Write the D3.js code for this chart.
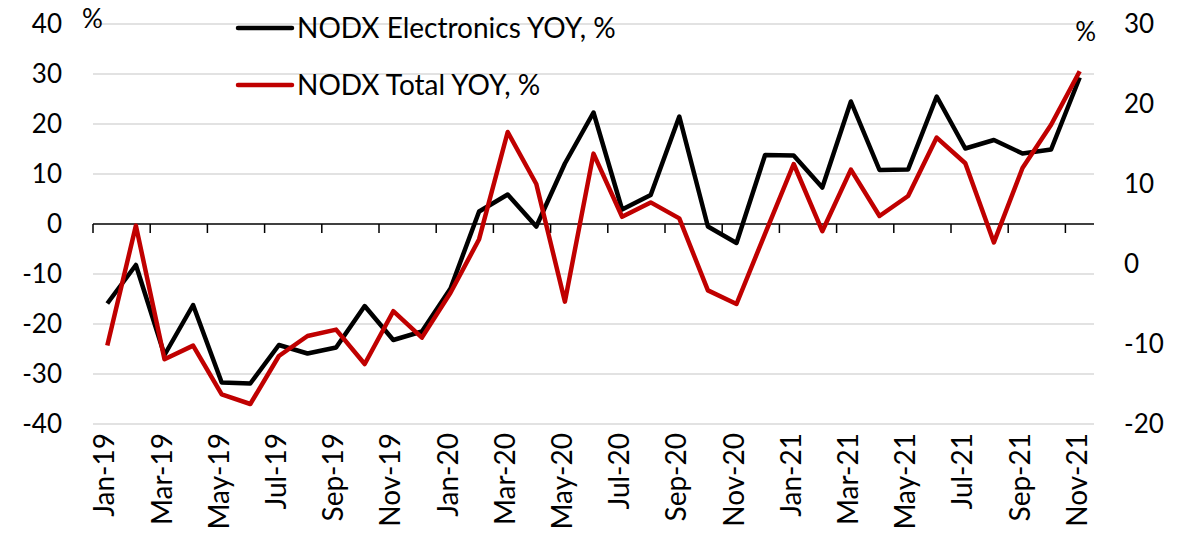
<!DOCTYPE html>
<html>
<head>
<meta charset="utf-8">
<script src="https://cdn.jsdelivr.net/npm/d3@7"></script>
<style>
    body { margin: 0; background: #fff; }
    text { font-family: Lato, 'Open Sans', sans-serif; fill: #000; }
</style>
</head>
<body>
<div id="chart"></div>
<script>
// months on the category axis
let months = ['Jan-19', 'Feb-19', 'Mar-19', 'Apr-19', 'May-19', 'Jun-19', 'Jul-19', 'Aug-19', 'Sep-19', 'Oct-19', 'Nov-19', 'Dec-19',
    'Jan-20', 'Feb-20', 'Mar-20', 'Apr-20', 'May-20', 'Jun-20', 'Jul-20', 'Aug-20', 'Sep-20', 'Oct-20', 'Nov-20', 'Dec-20',
    'Jan-21', 'Feb-21', 'Mar-21', 'Apr-21', 'May-21', 'Jun-21', 'Jul-21', 'Aug-21', 'Sep-21', 'Oct-21', 'Nov-21']

// left axis
let electronics = [-15.9, -8.2, -26.2, -16.2, -31.7, -31.9, -24.2, -25.9, -24.7, -16.4, -23.2, -21.5,
    -12.9, 2.5, 5.9, -0.5, 12.1, 22.3, 2.9, 5.8, 21.5, -0.5, -3.8, 13.8,
    13.7, 7.3, 24.5, 10.8, 10.9, 25.5, 15.1, 16.8, 14.1, 14.9, 29.3]
// right axis
let total = [-10.2, 4.8, -11.9, -10.2, -16.3, -17.5, -11.5, -9.0, -8.2, -12.5, -5.9, -9.2,
    -3.6, 3.1, 16.5, 10.0, -4.7, 13.8, 5.9, 7.7, 5.7, -3.3, -5.0, 3.8,
    12.5, 4.1, 11.8, 6.0, 8.5, 15.8, 12.6, 2.7, 12.0, 17.4, 24.1]

let leftTicks = [-40, -30, -20, -10, 0, 10, 20, 30, 40]
let rightTicks = [-20, -10, 0, 10, 20, 30]
let seriesNames = ['NODX Electronics YOY, %', 'NODX Total YOY, %']

let svgWidth = 1187
let svgHeight = 544
let padding = { 'left': 93, 'right': 93, 'top': 24, 'bottom': 120 }

let svg = d3.select('#chart').append('svg')
    .attr('width', svgWidth)
    .attr('height', svgHeight)

let x = d3.scaleBand()
    .domain(months)
    .range([padding.left, svgWidth - padding.right])
    .padding(0)

let yL = d3.scaleLinear()
    .domain([-40, 40])
    .range([svgHeight - padding.bottom, padding.top])

let yR = d3.scaleLinear()
    .domain([-20, 30])
    .range([svgHeight - padding.bottom, padding.top])

// gridlines
svg.append('g')
    .selectAll('line')
    .data(leftTicks.filter(d => d != 0))
    .enter()
    .append('line')
    .attr('x1', padding.left)
    .attr('x2', svgWidth - padding.right)
    .attr('y1', d => yL(d))
    .attr('y2', d => yL(d))
    .attr('stroke', '#d9d9d9')
    .attr('stroke-width', 1.5)

// left tick labels
svg.append('g')
    .selectAll('text')
    .data(leftTicks)
    .enter()
    .append('text')
    .attr('x', 62)
    .attr('y', d => yL(d))
    .attr('dy', '0.36em')
    .attr('text-anchor', 'end')
    .attr('font-size', 26)
    .text(d => d)

// right tick labels
svg.append('g')
    .selectAll('text')
    .data(rightTicks)
    .enter()
    .append('text')
    .attr('x', 1124)
    .attr('y', d => yR(d))
    .attr('dy', '0.36em')
    .attr('text-anchor', 'start')
    .attr('font-size', 26)
    .text(d => d)

// unit labels
svg.append('text')
    .attr('x', 82)
    .attr('y', 28)
    .attr('font-size', 26)
    .text('%')
svg.append('text')
    .attr('x', 1096)
    .attr('y', 41)
    .attr('text-anchor', 'end')
    .attr('font-size', 26)
    .text('%')

// category axis on the zero line
let y0 = yL(0)
svg.append('line')
    .attr('x1', padding.left)
    .attr('x2', svgWidth - padding.right)
    .attr('y1', y0)
    .attr('y2', y0)
    .attr('stroke', '#000')
    .attr('stroke-width', 1.5)

let tickMonths = months.filter((d, i) => i % 2 == 0)
svg.append('g')
    .selectAll('line')
    .data(tickMonths)
    .enter()
    .append('line')
    .attr('x1', d => x(d))
    .attr('x2', d => x(d))
    .attr('y1', y0)
    .attr('y2', y0 + 9)
    .attr('stroke', '#000')
    .attr('stroke-width', 1.5)

svg.append('g')
    .selectAll('text')
    .data(tickMonths)
    .enter()
    .append('text')
    .attr('transform', d => `translate(${x(d) + x.bandwidth() / 2 - 3}, ${433}) rotate(-90)`)
    .attr('dy', '0.36em')
    .attr('text-anchor', 'end')
    .attr('font-size', 28)
    .text(d => d)

// lines
let lineL = d3.line()
    .x((d, i) => x(months[i]) + x.bandwidth() / 2)
    .y(d => yL(d))
let lineR = d3.line()
    .x((d, i) => x(months[i]) + x.bandwidth() / 2)
    .y(d => yR(d))

svg.append('path')
    .datum(electronics)
    .attr('d', lineL)
    .attr('fill', 'none')
    .attr('stroke', '#000')
    .attr('stroke-width', 4.5)
    .attr('stroke-linejoin', 'round')

svg.append('path')
    .datum(total)
    .attr('d', lineR)
    .attr('fill', 'none')
    .attr('stroke', '#c00000')
    .attr('stroke-width', 4.5)
    .attr('stroke-linejoin', 'round')

// legend
let legendColors = ['#000', '#c00000']
let legend = svg.append('g')
    .selectAll('g')
    .data(seriesNames)
    .enter()
    .append('g')
    .attr('transform', (d, i) => `translate(238, ${28 + i * 57})`)

legend.append('line')
    .attr('x1', 0)
    .attr('x2', 54)
    .attr('stroke', (d, i) => legendColors[i])
    .attr('stroke-width', 4.5)
    .attr('stroke-linecap', 'round')

legend.append('text')
    .attr('x', 59)
    .attr('dy', '0.36em')
    .attr('font-size', 28)
    .text(d => d)
</script>
</body>
</html>
